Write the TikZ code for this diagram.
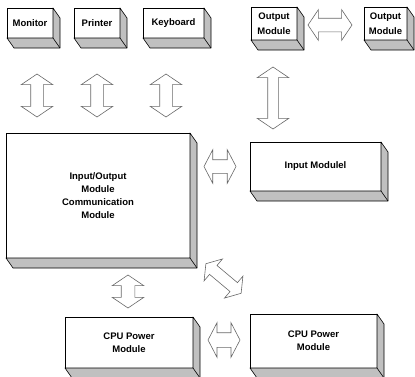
\documentclass[tikz,border=0pt]{standalone}
\usepackage{fontspec}
\setmainfont{Liberation Sans}
\usetikzlibrary{shapes.arrows, calc}
\definecolor{Side}{RGB}{192, 192, 192}
\definecolor{Outline}{RGB}{105, 105, 105}
\newcommand{\boxfont}{\bfseries\fontsize{9.5}{13}\selectfont}
% grey side and bottom faces of a block
\newcommand{\extrude}[1]{%
  \draw[fill=Side, line width=0.6pt, line join=round] (#1.north east) -- ++(7,10)
    -- ($(#1.south east)+(7,10)$) -- ($(#1.south west)+(7,10)$)
    -- (#1.south west) -- (#1.south east) -- cycle;
  \draw[line width=0.6pt] (#1.south east) -- ++(7,10);}
\tikzset{
  blk/.style={draw, fill=white, line width=0.6pt, anchor=north west, outer sep=0pt,
    inner sep=1pt, align=center, font=\boxfont},
  dbl/.style={double arrow, draw=Outline, fill=white, line width=0.6pt, line join=miter,
    inner xsep=0pt, inner ysep=6pt, double arrow head extend=9.5pt,
    double arrow tip angle=112, minimum height=#1},
  dbl/.default=43pt
}
\begin{document}
\begin{tikzpicture}[x=1pt, y=-1pt]
        \useasboundingbox (0,0) rectangle (415,376);
        % Peripherals
        \node[blk, minimum width=46pt, minimum height=30pt] (monitor) at (7,8) {Monitor};
        \node[blk, minimum width=46pt, minimum height=30pt] (printer) at (74,8) {Printer};
        \node[blk, minimum width=61pt, minimum height=30pt] (keyboard) at (143,8) {Keyboard};
        \extrude{monitor}
        \extrude{printer}
        \extrude{keyboard}
        
        % Output modules
        \node[blk, minimum width=46pt, minimum height=33pt, font=\bfseries\fontsize{9.5}{15}\selectfont] (outA) at (251,7) {Output\\Module};
        \node[blk, minimum width=43pt, minimum height=33pt, font=\bfseries\fontsize{9.5}{15}\selectfont] (outB) at (364,7) {Output\\Module};
        \extrude{outA}
        \extrude{outB}
        
        % Communication module
        \node[blk, minimum width=184pt, minimum height=125pt] (iocomm) at (6,133) {Input/Output\\Module\\Communication\\Module};
        \extrude{iocomm}
        
        % Input module
        \node[blk, minimum width=131pt, minimum height=49pt] (input) at (250,142) {Input Modulel};
        \extrude{input}
        
        % CPU power modules
        \node[blk, minimum width=128pt, minimum height=51pt] (cpuA) at (65,317) {CPU Power\\Module};
        \node[blk, minimum width=127pt, minimum height=54pt] (cpuB) at (250,314) {CPU Power\\Module};
        \extrude{cpuA}
        \extrude{cpuB}
        
        % Block arrows
        \node[dbl, rotate=90] (arrMon) at (37,95.5) {};
        \node[dbl, rotate=90] (arrPrn) at (97,95.5) {};
        \node[dbl, rotate=90] (arrKbd) at (166,95.5) {};
        \node[dbl=62pt, rotate=90, inner ysep=5pt, double arrow head extend=10.5pt] (arrInp) at (273,98) {};
        \node[dbl=44pt, inner ysep=6.5pt, double arrow head extend=8.5pt] (arrOut) at (330,25) {};
        \node[dbl=32pt, inner ysep=6.5pt, double arrow head extend=10pt, double arrow tip angle=125] (arrIO) at (220,166.5) {};
        \node[dbl=33pt, rotate=90, inner ysep=6.5pt, double arrow head extend=9pt] (arrCpu) at (128,291.5) {};
        \node[dbl=32pt, inner ysep=7pt, double arrow head extend=10pt, double arrow tip angle=125] (arrPow) at (224,340) {};
        \node[dbl=46pt, rotate=-40, inner ysep=5.5pt, double arrow head extend=8.5pt] (arrDiag) at (223.5,278.5) {};
    \end{tikzpicture}
\end{document}
